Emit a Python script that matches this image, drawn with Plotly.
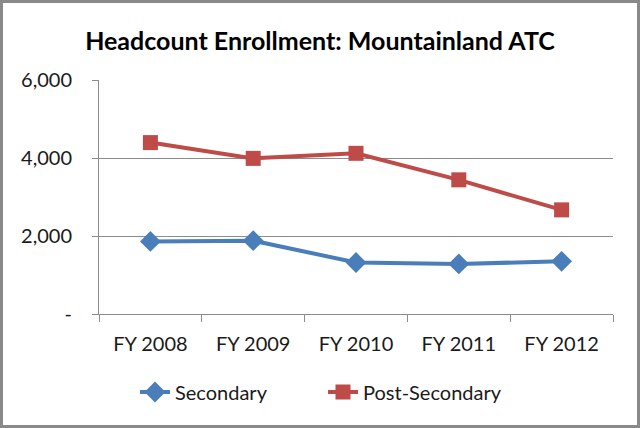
import plotly.graph_objects as go

categories = ["FY 2008", "FY 2009", "FY 2010", "FY 2011", "FY 2012"]
secondary = [1860, 1880, 1320, 1285, 1350]
post_secondary = [4395, 3990, 4120, 3440, 2670]
y_tickvals = [0, 2000, 4000, 6000]
y_ticktext = ["-", "2,000", "4,000", "6,000"]

FONT = "Lato, Carlito, Calibri, sans-serif"
W, H = 640, 428
L, R, T, B = 99, 27, 80, 114
PW, PH = W - L - R, H - T - B

fig = go.Figure()
fig.add_trace(go.Scatter(
    x=categories, y=secondary, name="Secondary", mode="lines+markers",
    line=dict(color="#4A7EBB", width=4),
    marker=dict(symbol="diamond", size=16, color="#4A7EBB"),
))
fig.add_trace(go.Scatter(
    x=categories, y=post_secondary, name="Post-Secondary", mode="lines+markers",
    line=dict(color="#BE4B48", width=4),
    marker=dict(symbol="square", size=15, color="#BE4B48"),
))

fig.update_layout(
    width=W, height=H, autosize=False,
    margin=dict(l=L, r=R, t=T, b=B, pad=0),
    paper_bgcolor="white", plot_bgcolor="white",
    font=dict(family=FONT, size=20, color="#000000"),
    title=dict(text="<b>Headcount Enrollment: Mountainland ATC</b>",
               x=0.5, xanchor="center", y=1 - 41 / H, yanchor="middle",
               font=dict(family=FONT, size=25, color="#000000")),
    showlegend=True,
    legend=dict(orientation="h", x=(135 - L) / PW, xanchor="left",
                y=-(392 - T - PH) / PH, yanchor="middle",
                font=dict(family=FONT, size=20, color="#1A1A1A"),
                traceorder="normal", itemwidth=30, entrywidth=143,
                entrywidthmode="pixels"),
    xaxis=dict(type="category", range=[-0.5, 4.5], showline=True,
               linecolor="#8C8C8C", linewidth=1,
               ticks="outside", ticklen=7, tickcolor="#8C8C8C", tickson="boundaries",
               ticklabelstandoff=12,
               showgrid=False, tickfont=dict(family=FONT, size=20, color="#1A1A1A")),
    yaxis=dict(range=[0, 6000], tickvals=y_tickvals, ticktext=y_ticktext,
               showline=True, linecolor="#8C8C8C", linewidth=1,
               ticks="outside", ticklen=6, tickcolor="#8C8C8C",
               ticklabelstandoff=16,
               showgrid=True, gridcolor="#8C8C8C", gridwidth=1, zeroline=False,
               tickfont=dict(family=FONT, size=20, color="#1A1A1A")),
)

# outer border around the whole chart
fig.add_shape(type="rect", xref="paper", yref="paper",
              x0=(-L + 1.5) / PW, x1=1 + (R - 1.5) / PW,
              y0=(-B + 1.5) / PH, y1=1 + (T - 1.5) / PH,
              line=dict(color="#8A8A8A", width=3), layer="above")

fig.write_html("out.html", config={"displayModeBar": False},
               post_script="document.body.style.margin='0';document.body.style.padding='0';")
